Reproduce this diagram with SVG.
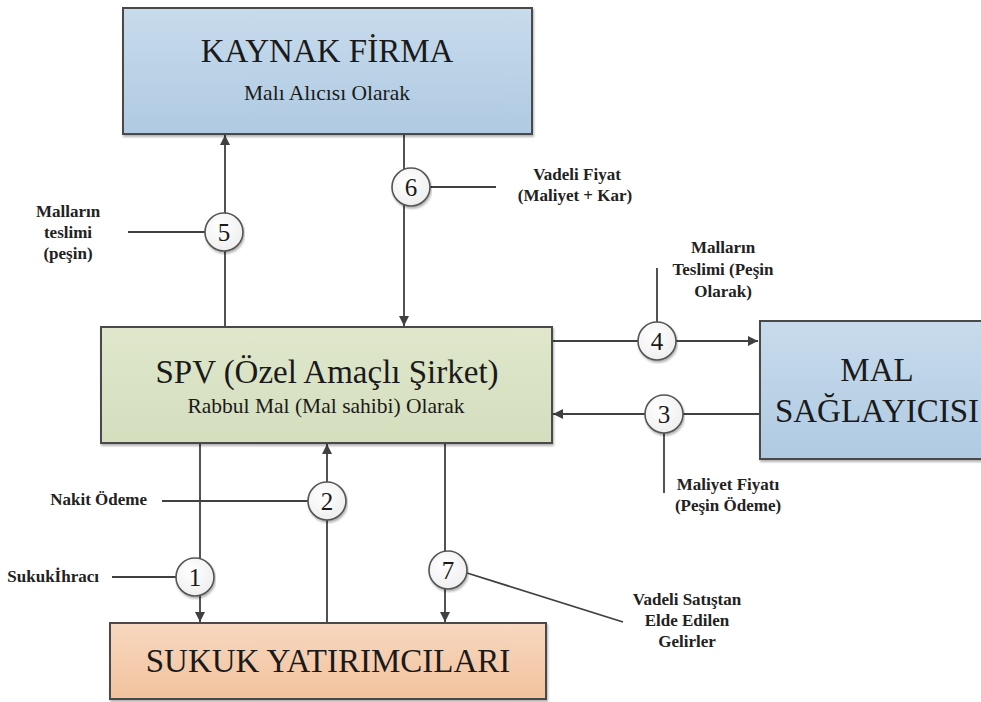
<svg xmlns="http://www.w3.org/2000/svg" width="981" height="702" viewBox="0 0 981 702">
<defs>
<linearGradient id="gBlue" x1="0" y1="0" x2="0" y2="1"><stop offset="0" stop-color="#c8dbec"/><stop offset="1" stop-color="#afcae2"/></linearGradient>
<linearGradient id="gGreen" x1="0" y1="0" x2="0" y2="1"><stop offset="0" stop-color="#e0e7cc"/><stop offset="1" stop-color="#d4debd"/></linearGradient>
<linearGradient id="gPeach" x1="0" y1="0" x2="0" y2="1"><stop offset="0" stop-color="#f7d8c0"/><stop offset="1" stop-color="#f2c29d"/></linearGradient>
<radialGradient id="gCirc" cx="0.4" cy="0.35" r="0.7"><stop offset="0" stop-color="#ffffff"/><stop offset="1" stop-color="#eeeeee"/></radialGradient>
<marker id="arr" viewBox="0 0 10 10" refX="10" refY="5" markerWidth="11" markerHeight="10" markerUnits="userSpaceOnUse" orient="auto"><path d="M0,0 L10,5 L0,10 Z" fill="#404040"/></marker>
<filter id="sh" x="-5%" y="-5%" width="110%" height="115%"><feDropShadow dx="1" dy="2" stdDeviation="1.2" flood-color="#000" flood-opacity="0.3"/></filter>
</defs>
<style>
.box{stroke:#4a4a4a;stroke-width:2;filter:url(#sh)}
.big{font-size:33px;text-anchor:middle;fill:#1a1a1a}
.sub{font-size:21.5px;text-anchor:middle;fill:#1a1a1a}
.lbl{font-size:17px;font-weight:bold;fill:#222;text-anchor:middle}
.end{text-anchor:end}
.ln{stroke:#404040;stroke-width:1.8;fill:none}
.circ{fill:url(#gCirc);stroke:#555;stroke-width:1.6;filter:url(#sh)}
.num{font-size:25px;text-anchor:middle;fill:#1a1a1a}
</style>

<g id="connectors">
<line class="ln" x1="225" y1="327" x2="225" y2="135" marker-end="url(#arr)"/>
<line class="ln" x1="128" y1="232" x2="206" y2="232"/>
<line class="ln" x1="404" y1="134" x2="404" y2="326" marker-end="url(#arr)"/>
<line class="ln" x1="429" y1="187" x2="496" y2="187"/>
<line class="ln" x1="552" y1="341" x2="758" y2="341" marker-end="url(#arr)"/>
<line class="ln" x1="657" y1="268" x2="657" y2="322"/>
<line class="ln" x1="760" y1="414" x2="553" y2="414" marker-end="url(#arr)"/>
<line class="ln" x1="664" y1="432" x2="664" y2="493"/>
<line class="ln" x1="200" y1="443" x2="200" y2="622" marker-end="url(#arr)"/>
<line class="ln" x1="112" y1="577" x2="176" y2="577"/>
<line class="ln" x1="327" y1="623" x2="327" y2="444" marker-end="url(#arr)"/>
<line class="ln" x1="162" y1="501" x2="308" y2="501"/>
<line class="ln" x1="445" y1="443" x2="445" y2="622" marker-end="url(#arr)"/>
<line class="ln" x1="467" y1="573" x2="623" y2="622"/>
</g>

<g font-family="Liberation Serif, 'Times New Roman', serif">
<g id="kaynak-firma">
<rect class="box" x="123" y="8" width="409" height="126" fill="url(#gBlue)"/>
<text class="big" x="327" y="62">KAYNAK FİRMA</text>
<text class="sub" x="327" y="100">Malı Alıcısı Olarak</text>
</g>

<g id="spv">
<rect class="box" x="101" y="327" width="451" height="116" fill="url(#gGreen)"/>
<text class="big" x="327" y="383">SPV (Özel Amaçlı Şirket)</text>
<text class="sub" x="326" y="413">Rabbul Mal (Mal sahibi) Olarak</text>
</g>

<g id="mal-saglayicisi">
<rect class="box" x="760" y="321" width="232" height="138" fill="url(#gBlue)"/>
<text class="big" x="877" y="381">MAL</text>
<text class="big" x="877" y="422">SAĞLAYICISI</text>
</g>

<g id="sukuk-yatirimcilari">
<rect class="box" x="110" y="623" width="436" height="76" fill="url(#gPeach)"/>
<text class="big" x="328" y="672">SUKUK YATIRIMCILARI</text>
</g>

<g id="step-1">
<circle class="circ" cx="195" cy="577" r="19"/>
<text class="num" x="195" y="586">1</text>
<text class="lbl end" x="99" y="582">Sukukİhracı</text>
</g>
<g id="step-2">
<circle class="circ" cx="327" cy="501" r="19"/>
<text class="num" x="327" y="510">2</text>
<text class="lbl end" x="147" y="505">Nakit Ödeme</text>
</g>
<g id="step-3">
<circle class="circ" cx="664" cy="414" r="19"/>
<text class="num" x="664" y="423">3</text>
<text class="lbl" x="728" y="490">Maliyet Fiyatı</text>
<text class="lbl" x="728" y="511">(Peşin Ödeme)</text>
</g>
<g id="step-4">
<circle class="circ" cx="657" cy="341" r="19"/>
<text class="num" x="657" y="350">4</text>
<text class="lbl" x="723" y="253">Malların</text>
<text class="lbl" x="723" y="275">Teslimi (Peşin</text>
<text class="lbl" x="723" y="297">Olarak)</text>
</g>
<g id="step-5">
<circle class="circ" cx="224" cy="232" r="19"/>
<text class="num" x="224" y="241">5</text>
<text class="lbl" x="68" y="217">Malların</text>
<text class="lbl" x="68" y="238">teslimi</text>
<text class="lbl" x="68" y="259">(peşin)</text>
</g>
<g id="step-6">
<circle class="circ" cx="411" cy="187" r="19"/>
<text class="num" x="411" y="196">6</text>
<text class="lbl" x="577" y="180">Vadeli Fiyat</text>
<text class="lbl" x="575" y="201">(Maliyet + Kar)</text>
</g>
<g id="step-7">
<circle class="circ" cx="448" cy="570" r="19"/>
<text class="num" x="448" y="579">7</text>
<text class="lbl" x="687" y="605">Vadeli Satıştan</text>
<text class="lbl" x="687" y="626">Elde Edilen</text>
<text class="lbl" x="687" y="647">Gelirler</text>
</g>
</g>
</svg>
